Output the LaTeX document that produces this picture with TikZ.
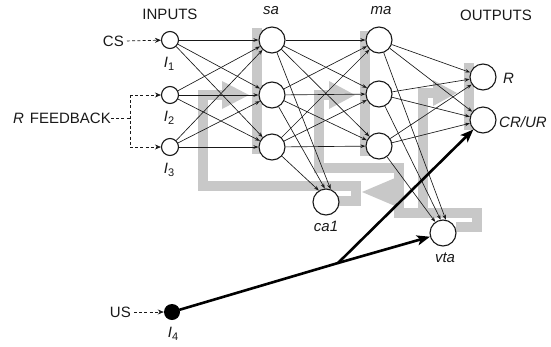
\documentclass[tikz,border=0pt]{standalone}
\usepackage{fontspec}
\setmainfont{Liberation Sans}
\usetikzlibrary{arrows.meta}
\definecolor{fbgray}{RGB}{200,200,200}
\definecolor{ink}{RGB}{25,25,25}
\newcommand{\isub}[1]{\textit{I}\raisebox{-0.45ex}{\fontsize{11}{12}\selectfont #1}}
\begin{document}
\begin{tikzpicture}[x=1pt,y=-1pt,
  neuron/.style={circle,draw=ink,line width=1.1pt,fill=white,minimum size=26pt,inner sep=0pt},
  inp/.style={circle,draw=ink,line width=1.1pt,fill=white,minimum size=17pt,inner sep=0pt},
  blackinp/.style={circle,fill=black,minimum size=16pt,inner sep=0pt},
  syn/.style={draw=ink,line width=0.65pt,-{Stealth[length=5pt,width=3.6pt]}},
  dashline/.style={draw=ink,line width=0.7pt,dash pattern=on 3pt off 2.2pt},
  ext/.style={dashline,-{Stealth[length=6pt,width=5pt]}},
  heavy/.style={draw=black,line width=2.6pt,line cap=round},
  heavyarrow/.style={heavy,-{Stealth[length=13pt,width=10pt,inset=3pt]}},
  fb/.style={draw=fbgray,line width=10pt,line join=miter},
  fbhead/.style={fill=fbgray},
  lbl/.style={text=ink,font=\fontsize{15}{17}\selectfont,inner sep=0pt},
  ilbl/.style={text=ink,font=\fontsize{15}{17}\selectfont\itshape,inner sep=0pt}]
\useasboundingbox (0,0) rectangle (551,346);

% ---- gray feedback pathways (background) ----
\fill[fbgray] (252,28) rectangle (262,154);
\fill[fbgray] (360,31) rectangle (370,156);
\fill[fbgray] (464,63) rectangle (474,130);
% ca1 -> sa
\draw[fb] (337,201) -- (356,201) -- (356,186) -- (203,186) -- (203,95) -- (224,95);
\fill[fbhead] (222,81) -- (249,95) -- (222,109) -- cycle;
% vta -> ma
\draw[fb] (456,227) -- (477,227) -- (477,213) -- (399,213) -- (399,168) -- (319,168) -- (319,95) -- (331,95);
\fill[fbhead] (329,81) -- (355,95) -- (329,109) -- cycle;
% vta -> outputs
\draw[fb] (423,218) -- (423,93) -- (435,93);
\fill[fbhead] (433,80) -- (457,93) -- (433,106) -- cycle;
% vta -> ca1
\fill[fbhead] (395,178) -- (362,192) -- (395,206) -- cycle;

% ---- nodes ----
\node[inp] (i1) at (170,40) {};
\node[inp] (i2) at (170,95) {};
\node[inp] (i3) at (170,147) {};
\node[blackinp] (i4) at (172,312) {};
\node[neuron] (s1) at (272,40) {};
\node[neuron] (s2) at (272,95) {};
\node[neuron] (s3) at (272,147) {};
\node[neuron] (m1) at (379,40) {};
\node[neuron] (m2) at (379,94) {};
\node[neuron] (m3) at (379,146) {};
\node[neuron] (r) at (483,77) {};
\node[neuron] (cr) at (483,120) {};
\node[neuron] (ca) at (326,202) {};
\node[neuron] (vta) at (443,233) {};

% ---- labels ----
\node[lbl] (tin) at (170,14) {INPUTS};
\node[ilbl] (tsa) at (271,11) {sa};
\node[ilbl] (tma) at (381,11) {ma};
\node[lbl] (tout) at (496,15.5) {OUTPUTS};
\node[lbl,anchor=east] (cs) at (124,41) {CS};
\node[lbl,anchor=east] (fbk) at (111,118) {\textit{R}\hspace{6pt}FEEDBACK};
\node[lbl,anchor=east] (us) at (131,312) {US};
\node[lbl] (l1) at (169,64) {\isub{1}};
\node[lbl] (l2) at (169,118) {\isub{2}};
\node[lbl] (l3) at (169,170) {\isub{3}};
\node[lbl] (l4) at (173,334) {\isub{4}};
\node[ilbl,anchor=west] (lr) at (503,78) {R};
\node[ilbl,anchor=west] (lcr) at (499,122) {CR/UR};
\node[ilbl] (lca) at (326,226) {ca1};
\node[ilbl] (lvta) at (445,258) {vta};

% ---- external inputs ----
\coordinate (bk) at (130,118);
\coordinate (bt) at (130,95);
\coordinate (bb) at (130,147);
\draw[ext,shorten <=3pt] (cs.east) -- (i1);
\draw[dashline] (fbk.east) -- (bk);
\draw[dashline] (bt) -- (bb);
\draw[ext] (bt) -- (i2);
\draw[ext] (bb) -- (i3);
\draw[ext,shorten <=3pt] (us.east) -- (i4);

% ---- connections ----
\foreach \a in {i1,i2,i3}
  \foreach \b in {s1,s2,s3}
    \draw[syn] (\a) -- (\b);
\foreach \a in {s1,s2,s3}
  \foreach \b in {m1,m2,m3}
    \draw[syn] (\a) -- (\b);
\foreach \a in {m1,m2,m3}
  \foreach \b in {r,cr}
    \draw[syn] (\a) -- (\b);
\draw[syn] (s1) -- (ca.70);
\draw[syn] (s2) -- (ca.95);
\draw[syn] (s3) -- (ca.122);
\draw[syn] (m1) -- (vta.78);
\draw[syn] (m2) -- (vta.100);
\draw[syn] (m3) -- (vta.125);

% ---- unconditioned pathway ----
\coordinate (br) at (338,263);
\draw[heavy] (i4) -- (br);
\draw[heavyarrow] (br) -- (cr);
\draw[heavyarrow] (br) -- (vta);
\end{tikzpicture}
\end{document}
